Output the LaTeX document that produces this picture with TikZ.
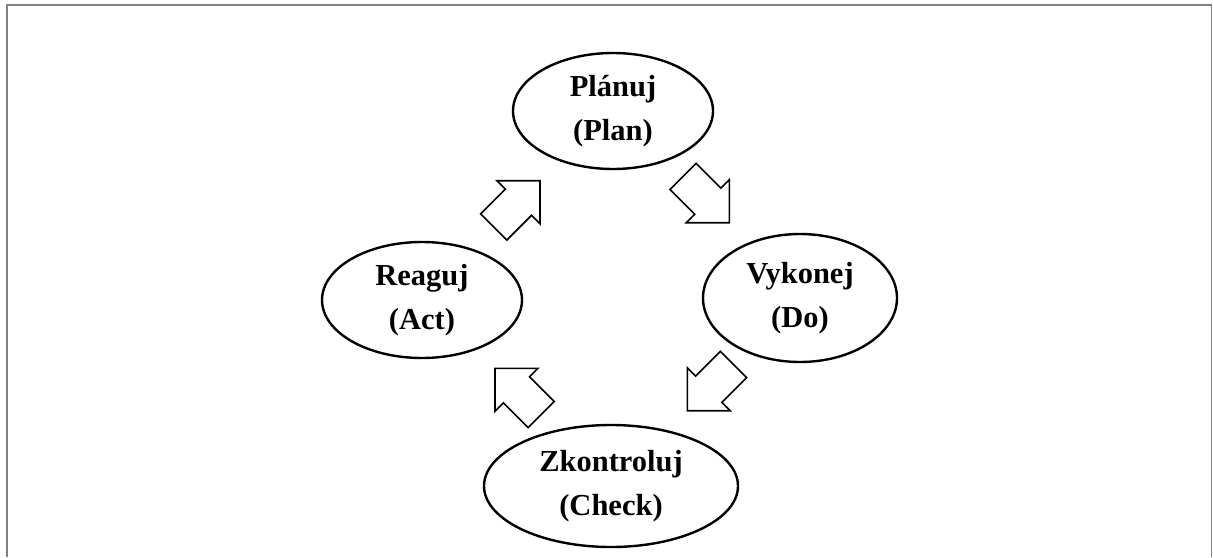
\documentclass[tikz,border=0pt]{standalone}
\usepackage{fontspec}
\setmainfont{Liberation Serif}
\usepackage{tikz}
\usetikzlibrary{shapes.geometric, positioning, calc}
\definecolor{mframe}{HTML}{808080}
\tikzset{
  phase/.style={draw=black, ellipse, line width=2.4pt, fill=white,
                align=center, inner sep=0pt,
                font=\fontsize{30.5}{44}\selectfont\bfseries},
  blockarr/.style={draw=black, fill=white, line width=1.6pt, line join=miter},
  cyclearrow/.pic={
    \draw[blockarr] (0,0) -- (-30.4,30.4) -- (-30.4,18.5) -- (-65.4,18.5)
      -- (-65.4,-18.5) -- (-30.4,-18.5) -- (-30.4,-30.4) -- cycle;
  },
}
\begin{document}
\begin{tikzpicture}[x=1pt, y=-1pt]
  \useasboundingbox (0,0) rectangle (1213,557);

  %% ramecek
  \draw[mframe, line width=1.8pt] (7,557) -- (7,5) -- (1211.5,5) -- (1211.5,557);

  %% faze cyklu
  \node[phase, minimum width=200pt, minimum height=116pt] (plan)  at (613,111) {Plánuj\\(Plan)};
  \node[phase, minimum width=194pt, minimum height=128pt] (do)    at (800,298) {Vykonej\\(Do)};
  \node[phase, minimum width=254pt, minimum height=122pt] (check) at (611,486) {Zkontroluj\\(Check)};
  \node[phase, minimum width=200pt, minimum height=116pt] (act)   at (422,300) {Reaguj\\(Act)};

  %% sipky mezi fazemi
  \pic[rotate=-45]  at (729.3,222.7) {cyclearrow};
  \pic[rotate=-135] at (687.3,410.7) {cyclearrow};
  \pic[rotate=135]  at (495,368.3)   {cyclearrow};
  \pic[rotate=45]   at (540,180.7)   {cyclearrow};

\end{tikzpicture}
\end{document}
